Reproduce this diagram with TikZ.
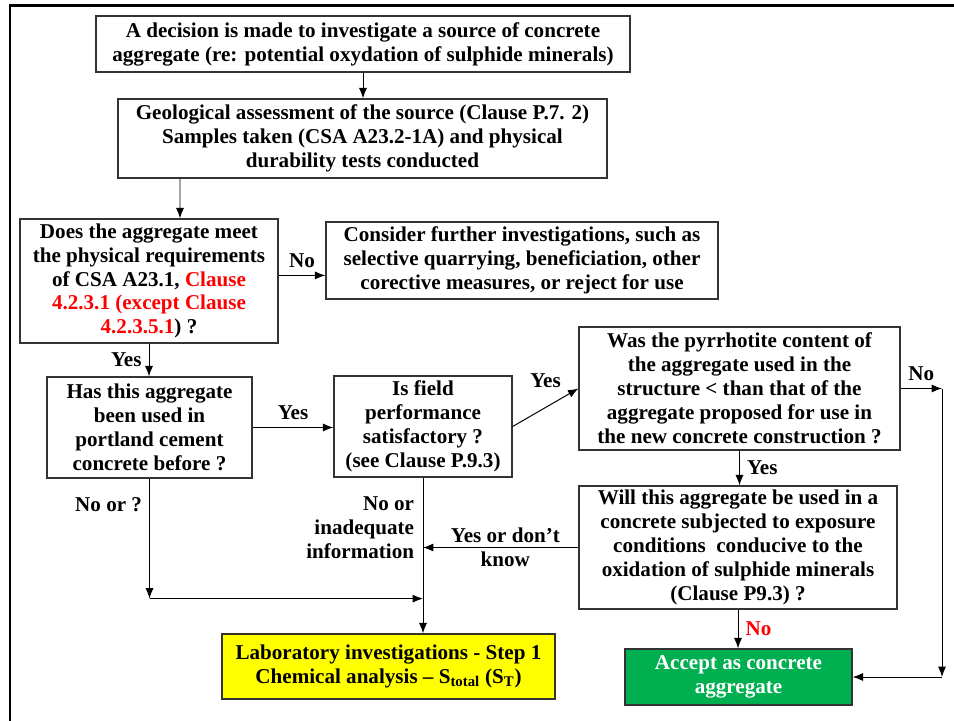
\documentclass[tikz,border=0pt]{standalone}
\usepackage{fontspec}
\setmainfont{Liberation Serif}
\usepackage{tikz}
\usetikzlibrary{arrows.meta,positioning}
\definecolor{acceptgreen}{RGB}{0,176,80}
\definecolor{labyellow}{RGB}{255,255,0}
\definecolor{clausered}{RGB}{255,0,0}

\begin{document}
\begin{tikzpicture}[
    font=\fontsize{15}{17}\selectfont\bfseries,
    block/.style={draw=black!80, line width=0.9pt, align=center, inner sep=2pt, fill=white},
    line/.style={-{Latex[length=2.6mm,width=2mm]}, line width=0.7pt},
    lbl/.style={inner sep=2pt, align=center}
]
    \useasboundingbox (0,0) rectangle (23.85,-18.025);
    % slide frame, cut off at right and bottom
    \draw[line width=2pt] (0.25,-18.025) -- (0.25,-0.14) -- (23.85,-0.14);

    \node[block, minimum width=13.35cm, minimum height=1.4cm] (decide) at (9.075,-1.1)
        {A decision is made to investigate a source of concrete\\aggregate (re: potential oxydation of sulphide minerals)};
    \node[block, minimum width=12.225cm, minimum height=1.975cm] (geo) at (9.0625,-3.4625)
        {Geological assessment of the source (Clause P.7. 2)\\Samples taken (CSA A23.2-1A) and physical\\durability tests conducted};
    \node[block, minimum width=6.45cm, minimum height=3.1cm] (meet) at (3.725,-7.025)
        {Does the aggregate meet\\the physical requirements\\of CSA A23.1, \textcolor{clausered}{Clause}\\\textcolor{clausered}{4.2.3.1 (except Clause}\\\textcolor{clausered}{4.2.3.5.1}) ?};
    \node[block, minimum width=9.8cm, minimum height=1.925cm] (consider) at (13.05,-6.5125)
        {Consider further investigations, such as\\selective quarrying, beneficiation, other\\corective measures, or reject for use};
    \node[block, minimum width=5.125cm, minimum height=2.525cm] (used) at (3.7375,-10.6875)
        {Has this aggregate\\been used in\\portland cement\\concrete before ?};
    \node[block, minimum width=4.45cm, minimum height=2.525cm] (field) at (10.575,-10.6625)
        {Is field\\performance\\satisfactory ?\\(see Clause P.9.3)};
    \node[block, minimum width=8.025cm, minimum height=3.075cm] (pyrr) at (18.4875,-9.7125)
        {Was the pyrrhotite content of\\the aggregate used in the\\structure < than that of the\\aggregate proposed for use in\\the new concrete construction ?};
    \node[block, minimum width=7.95cm, minimum height=3.075cm] (will) at (18.45,-13.6875)
        {Will this aggregate be used in a\\concrete subjected to exposure\\conditions\ \ conducive to the\\oxidation of sulphide minerals\\(Clause P9.3) ?};
    \node[block, fill=acceptgreen, text=white, minimum width=5.675cm, minimum height=1.4cm] (accept) at (18.4625,-16.925)
        {Accept as concrete\\aggregate};
    \node[block, fill=labyellow, minimum width=8.325cm, minimum height=1.625cm] (lab) at (9.7125,-16.6625)
        {Laboratory investigations - Step 1\\Chemical analysis -- S\textsubscript{total} (S\textsubscript{T})};

    \coordinate (nr) at (23.55,-9.7125);
    \coordinate (nb) at (nr |- accept.east);
    \coordinate (join) at ([yshift=-3cm]used.south);
    \coordinate (nowest) at ([yshift=0.14cm]meet.east);

    \draw[line] (decide.south) -- (decide.south |- geo.north);
    \draw[line] ([xshift=-4.5625cm]geo.south) -- ([xshift=0.775cm]meet.north);
    \draw[line] (nowest) -- node[lbl, above=1mm]{No} (nowest -| consider.west);
    \draw[line] (meet.south) -- node[lbl, left=3pt]{Yes} (meet.south |- used.north);
    \draw[line] (used.east) -- node[lbl, above=1mm]{Yes} (used.east -| field.west);
    \draw[line] (field.east) -- node[lbl, above=4mm]{Yes} (pyrr.west);
    \draw[line] (pyrr.east) -- node[lbl, above=1.2mm]{No} (nr);
    \draw[line] (nr) -- (nb);
    \draw[line] (nb) -- (accept.east);
    \draw[line] (pyrr.south) -- node[lbl, right=3pt]{Yes} (pyrr.south |- will.north);
    \draw[line] (will.west) -- node[lbl, pos=0.47]{Yes or don't\\know} (field.south |- will.west);
    \draw[line] (will.south) -- node[lbl, right=3pt, text=clausered]{No} (will.south |- accept.north);
    \draw[line] (field.south) -- node[lbl, pos=0.32, left=4pt, align=right]{No or\\inadequate\\information} (field.south |- lab.north);
    \draw[line] (used.south) -- node[lbl, pos=0.22, left=3pt]{No or ?} (join);
    \draw[line] (join) -- (join -| field.south);
\end{tikzpicture}
\end{document}
